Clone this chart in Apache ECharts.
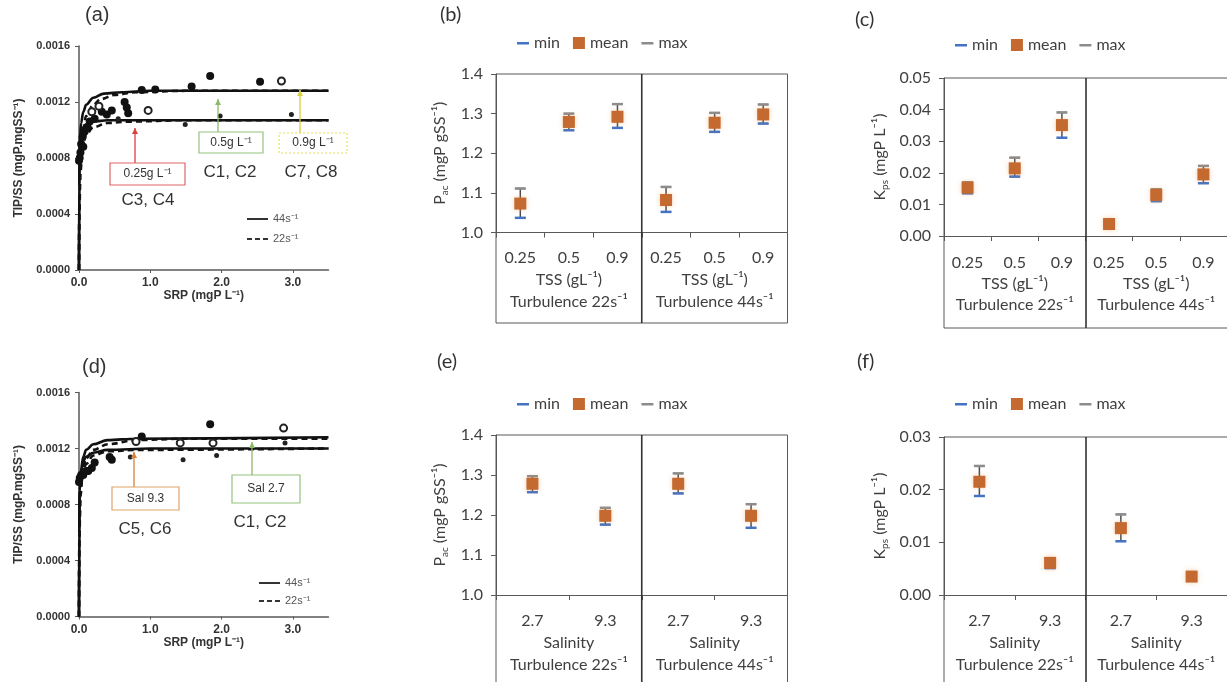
<!DOCTYPE html>
<html><head><meta charset="utf-8">
<script src="https://cdn.jsdelivr.net/npm/echarts@6/dist/echarts.min.js"></script>
<style>html,body{margin:0;padding:0;background:#fff}#c{width:1227px;height:682px}</style>
</head><body><div id="c"></div>
<script>
// ---------- Panel (a): TIP/SS vs SRP, TSS experiments ----------
const aSolidHigh = [[0,0],[0.003,0.0006],[0.01,0.00092],[0.03,0.00105],[0.06,0.00113],[0.1,0.00118],[0.2,0.00123],[0.35,0.00126],[0.6,0.00127],[1,0.00128],[2,0.00128],[3.5,0.00128]];
const aDashHigh  = [[0,0],[0.005,0.0005],[0.02,0.0008],[0.05,0.00098],[0.1,0.0011],[0.2,0.00118],[0.3,0.00122],[0.5,0.00125],[0.8,0.00127],[1.5,0.00128],[3.5,0.00128]];
const aSolidLow  = [[0,0],[0.003,0.0006],[0.01,0.00085],[0.03,0.00097],[0.06,0.00102],[0.1,0.00104],[0.2,0.00106],[0.4,0.00107],[1,0.00107],[3.5,0.00107]];
const aDashLow   = [[0,0],[0.005,0.0004],[0.02,0.0007],[0.05,0.00088],[0.1,0.00097],[0.2,0.00102],[0.4,0.00105],[0.7,0.00106],[1.5,0.00107],[3.5,0.00107]];
const aFilled = [[1.84,0.001386],[0.88,0.001286],[1.07,0.00129],[1.58,0.00131],[2.54,0.001345],[0.0,0.00078],[0.01,0.0008],[0.02,0.00084],[0.03,0.0009],[0.06,0.00088],[0.05,0.00095],[0.08,0.00099],[0.12,0.00102],[0.15,0.00106],[0.22,0.00108],[0.32,0.00113],[0.39,0.00111],[0.46,0.00114],[0.64,0.0012],[0.67,0.00116],[0.69,0.00112]];
const aOpen   = [[2.84,0.00135],[0.97,0.00114],[0.28,0.00117],[0.18,0.00113]];
const aSmall  = [[1.49,0.00104],[1.98,0.0011],[2.98,0.00111],[0.55,0.00108]];

// ---------- Panel (d): TIP/SS vs SRP, salinity experiments ----------
const dSolidHigh = [[0,0],[0.003,0.0006],[0.01,0.0009],[0.03,0.00106],[0.06,0.00114],[0.1,0.00119],[0.2,0.00123],[0.4,0.00126],[0.8,0.00127],[3.5,0.00128]];
const dDashHigh  = [[0,0],[0.005,0.0006],[0.02,0.0009],[0.05,0.00105],[0.1,0.00113],[0.2,0.00119],[0.4,0.00123],[0.8,0.00126],[1.5,0.00127],[3.5,0.00127]];
const dSolidLow  = [[0,0],[0.003,0.0006],[0.01,0.0009],[0.03,0.00104],[0.06,0.00111],[0.1,0.00114],[0.2,0.00117],[0.4,0.00119],[1,0.0012],[3.5,0.0012]];
const dDashLow   = [[0,0],[0.005,0.00055],[0.02,0.00086],[0.05,0.00101],[0.1,0.00109],[0.2,0.00115],[0.4,0.00118],[0.8,0.00119],[3.5,0.0012]];
const dFilled = [[1.84,0.001374],[0.88,0.001286],[0.0,0.00096],[0.01,0.00099],[0.03,0.00101],[0.06,0.00101],[0.1,0.00104],[0.13,0.00104],[0.18,0.00106],[0.22,0.0011],[0.46,0.00112],[0.43,0.00114]];
const dOpen   = [[2.87,0.001346],[1.42,0.00124],[1.88,0.00124],[0.8,0.00125]];
const dSmall  = [[1.46,0.00112],[1.93,0.00115],[2.89,0.00124],[0.72,0.00114]];

// ---------- Panels (b),(c): TSS categories ----------
const tssCats   = ['0.25','0.5','0.9','0.25','0.5','0.9'];
const tssGroups = ['TSS (gL⁻¹)\nTurbulence 22s⁻¹','TSS (gL⁻¹)\nTurbulence 44s⁻¹'];
const pacTssMean = [1.073,1.279,1.292,1.082,1.277,1.298];
const pacTssMin  = [1.037,1.258,1.264,1.052,1.254,1.275];
const pacTssMax  = [1.111,1.300,1.324,1.115,1.302,1.323];
const kTssMean = [0.0153,0.0214,0.0351,0.0038,0.0130,0.0195];
const kTssMin  = [0.0135,0.0188,0.0311,0.0033,0.0110,0.0167];
const kTssMax  = [0.0170,0.0248,0.0391,0.0045,0.0148,0.0222];

// ---------- Panels (e),(f): salinity categories ----------
const salCats   = ['2.7','9.3','2.7','9.3'];
const salGroups = ['Salinity\nTurbulence 22s⁻¹','Salinity\nTurbulence 44s⁻¹'];
const pacSalMean = [1.278,1.198,1.278,1.198];
const pacSalMin  = [1.257,1.176,1.254,1.168];
const pacSalMax  = [1.297,1.218,1.304,1.227];
const kSalMean = [0.0215,0.0061,0.0127,0.0035];
const kSalMin  = [0.0188,0.0051,0.0102,0.0029];
const kSalMax  = [0.0245,0.0069,0.0153,0.0041];

// ---------- styling / layout ----------
const FONT = 'Lato, "Open Sans", sans-serif';
const AFONT = '"Liberation Sans", Arial, sans-serif';
const AX = '#595959';
const TXT = '#404040';
const MEAN_C = '#C4692F';
const MIN_C = '#4472C4';
const MAX_C = '#8C8C8C';
const DASH_ICON = 'path://M0,0h0.01v0.01z M0,12h0.01v-0.01z M0,5h12v2.5h-12z';
const SOLID_LINE_ICON = 'path://M0,0h0.01v0.01z M0,14h0.01v-0.01z M0,6h21v2h-21z';
const DASHED_LINE_ICON = 'path://M0,0h0.01v0.01z M0,14h0.01v-0.01z M0,6h5v2h-5z M8,6h5v2h-5z M16,6h5v2h-5z';

const chart = echarts.init(document.getElementById('c'));

const curvePanels = [
  {grid:{left:79, top:46, width:249.5, height:224}, lines:[[aSolidHigh,'44s⁻¹'],[aDashHigh,'22s⁻¹'],[aSolidLow,'44s⁻¹'],[aDashLow,'22s⁻¹']], filled:aFilled, open:aOpen, small:aSmall, legend:{left:247, top:212, itemGap:6}},
  {grid:{left:79, top:392.5, width:249.5, height:224}, lines:[[dSolidHigh,'44s⁻¹'],[dDashHigh,'22s⁻¹'],[dSolidLow,'44s⁻¹'],[dDashLow,'22s⁻¹']], filled:dFilled, open:dOpen, small:dSmall, legend:{left:259, top:576, itemGap:4}}
];

const catPanels = [
  {grid:{left:496, top:74, width:291.5, height:158.5}, boxBottom:323, cats:tssCats, groups:tssGroups, mean:pacTssMean, min:pacTssMin, max:pacTssMax, yMin:1.0, yMax:1.4, yInt:0.1, dec:1, yName:'{b|P}{s|ac}{b| (mgP gSS⁻¹)}', nameGap:46, labMargin:17, grpMargin:37, grpLH:21.5, legend:{left:517, top:35}},
  {grid:{left:944, top:78, width:284, height:158}, boxBottom:328, cats:tssCats, groups:tssGroups, mean:kTssMean, min:kTssMin, max:kTssMax, yMin:0, yMax:0.05, yInt:0.01, dec:2, yName:'{b|K}{s|ps}{b| (mgP L⁻¹)}', nameGap:54, labMargin:19, grpMargin:38, grpLH:20.5, legend:{left:955, top:37}},
  {grid:{left:496, top:435, width:291.5, height:160}, boxBottom:700, cats:salCats, groups:salGroups, mean:pacSalMean, min:pacSalMin, max:pacSalMax, yMin:1.0, yMax:1.4, yInt:0.1, dec:1, yName:'{b|P}{s|ac}{b| (mgP gSS⁻¹)}', nameGap:46, labMargin:18, grpMargin:37, grpLH:21.7, legend:{left:517, top:396}},
  {grid:{left:944, top:437, width:284, height:158}, boxBottom:700, cats:salCats, groups:salGroups, mean:kSalMean, min:kSalMin, max:kSalMax, yMin:0, yMax:0.03, yInt:0.01, dec:2, yName:'{b|K}{s|ps}{b| (mgP L⁻¹)}', nameGap:54, labMargin:18, grpMargin:37, grpLH:21.7, legend:{left:955, top:396}}
];

const grid = [], xAxis = [], yAxis = [], series = [], legend = [], graphic = [];

// curve panels
curvePanels.forEach((p, gi) => {
  grid.push(Object.assign({containLabel:false}, p.grid));
  xAxis.push({type:'value', gridIndex:gi, min:0, max:3.5, interval:1,
    name:'SRP (mgP L⁻¹)', nameLocation:'middle', nameGap:17,
    nameTextStyle:{fontFamily:AFONT, fontWeight:'bold', fontSize:12, color:'#333'},
    axisLine:{show:true, onZero:false, lineStyle:{color:AX, width:1.5}},
    axisTick:{show:true, length:3, lineStyle:{color:AX}},
    axisLabel:{fontFamily:AFONT, fontWeight:'bold', fontSize:12, color:'#333', margin:7, showMaxLabel:false, formatter:v=>v.toFixed(1)},
    splitLine:{show:false}});
  yAxis.push({type:'value', gridIndex:gi, min:0, max:0.0016, interval:0.0004,
    name:'TIP/SS (mgP.mgSS⁻¹)', nameLocation:'middle', nameGap:54, nameRotate:90,
    nameTextStyle:{fontFamily:AFONT, fontWeight:'bold', fontSize:12, color:'#333'},
    axisLine:{show:true, onZero:false, lineStyle:{color:AX, width:1.5}},
    axisTick:{show:true, length:4, lineStyle:{color:AX}},
    axisLabel:{fontFamily:AFONT, fontWeight:'bold', fontSize:11, color:'#333', margin:9, formatter:v=>v.toFixed(4)},
    splitLine:{show:false}});
  p.lines.forEach(([data, name]) => {
    series.push({type:'line', name, xAxisIndex:gi, yAxisIndex:gi, data, symbol:'none', smooth:0.35, smoothMonotone:'x',
      lineStyle:{color:'#111', width:2.6, type: name.startsWith('22') ? [6,4] : 'solid'}, itemStyle:{color:'#222'}, z:3});
  });
  series.push({type:'scatter', xAxisIndex:gi, yAxisIndex:gi, data:p.filled, symbol:'circle', symbolSize:8, itemStyle:{color:'#111', opacity:1}, z:4});
  series.push({type:'scatter', xAxisIndex:gi, yAxisIndex:gi, data:p.open, symbol:'emptyCircle', symbolSize:7, itemStyle:{color:'#222', borderWidth:1.5, opacity:1}, z:4});
  series.push({type:'scatter', xAxisIndex:gi, yAxisIndex:gi, data:p.small, symbol:'circle', symbolSize:5, itemStyle:{color:'#222', opacity:1}, z:4});
  legend.push({data:[{name:'44s⁻¹', icon:SOLID_LINE_ICON},{name:'22s⁻¹', icon:DASHED_LINE_ICON}], orient:'vertical', left:p.legend.left, top:p.legend.top, itemWidth:21, itemHeight:14, itemGap:p.legend.itemGap, padding:0, selectedMode:false,
    itemStyle:{color:'#333', borderWidth:0}, lineStyle:{width:0},
    textStyle:{fontFamily:AFONT, fontSize:11, color:'#555'}});
});

// category panels
catPanels.forEach((p, k) => {
  const gi = 2 + k;
  grid.push(Object.assign({containLabel:false}, p.grid));
  const xi = xAxis.length;
  xAxis.push({type:'category', gridIndex:gi, data:p.cats, boundaryGap:true,
    axisLine:{show:true, onZero:false, lineStyle:{color:AX, width:1}},
    axisTick:{show:true, interval:0, length:5, lineStyle:{color:AX}},
    axisLabel:{interval:0, fontFamily:FONT, fontSize:16, color:TXT, margin:p.labMargin},
    splitLine:{show:false}});
  xAxis.push({type:'category', gridIndex:gi, data:p.groups, position:'bottom',
    axisLine:{show:false}, axisTick:{show:false},
    axisLabel:{interval:0, fontFamily:FONT, fontSize:16, color:TXT, margin:p.grpMargin, lineHeight:p.grpLH},
    splitLine:{show:false}});
  yAxis.push({type:'value', gridIndex:gi, min:p.yMin, max:p.yMax, interval:p.yInt,
    name:p.yName, nameLocation:'middle', nameGap:p.nameGap, nameRotate:90,
    nameTextStyle:{fontFamily:FONT, color:TXT, rich:{b:{fontFamily:FONT, fontSize:16, color:TXT, lineHeight:20}, s:{fontFamily:FONT, fontSize:10, color:TXT, lineHeight:12, verticalAlign:'bottom'}}},
    axisLine:{show:true, lineStyle:{color:AX}},
    axisTick:{show:true, length:5, lineStyle:{color:AX}},
    axisLabel:{fontFamily:FONT, fontSize:16, color:TXT, margin:13, formatter:v=>v.toFixed(p.dec)},
    splitLine:{show:false}});
  const idx = p.cats.map((c,i)=>i);
  series.push({type:'custom', xAxisIndex:xi, yAxisIndex:gi, clip:false, z:3,
    data: idx.map(i=>[i, p.min[i], p.max[i]]),
    encode:{x:0, y:[1,2]},
    renderItem:(params, api) => {
      const lo = api.coord([api.value(0), api.value(1)]);
      const hi = api.coord([api.value(0), api.value(2)]);
      const w = 5, st = {stroke:'#4d4d4d', lineWidth:1.5};
      return {type:'group', children:[
        {type:'line', shape:{x1:lo[0], y1:lo[1], x2:hi[0], y2:hi[1]}, style:st},
        {type:'line', shape:{x1:lo[0]-w, y1:lo[1], x2:lo[0]+w, y2:lo[1]}, style:st},
        {type:'line', shape:{x1:hi[0]-w, y1:hi[1], x2:hi[0]+w, y2:hi[1]}, style:st}
      ]};
    }});
  series.push({type:'scatter', name:'min', xAxisIndex:xi, yAxisIndex:gi, data: idx.map(i=>[i, p.min[i]]), symbol:'rect', symbolSize:[11,2.5], itemStyle:{color:MIN_C, opacity:1}, z:4});
  series.push({type:'scatter', name:'max', xAxisIndex:xi, yAxisIndex:gi, data: idx.map(i=>[i, p.max[i]]), symbol:'rect', symbolSize:[11,2.5], itemStyle:{color:MAX_C, opacity:1}, z:4});
  series.push({type:'scatter', name:'mean', xAxisIndex:xi, yAxisIndex:gi, data: idx.map(i=>[i, p.mean[i]]), symbol:'rect', symbolSize:12,
    itemStyle:{color:MEAN_C, opacity:1, shadowBlur:5, shadowColor:'rgba(235,150,70,0.45)'}, z:5});
  legend.push({data:[{name:'min', icon:DASH_ICON},{name:'mean', icon:'rect'},{name:'max', icon:DASH_ICON}],
    left:p.legend.left, top:p.legend.top, itemWidth:12, itemHeight:12, itemGap:13, padding:0, selectedMode:false,
    textStyle:{fontFamily:FONT, fontSize:16, color:TXT}});
  // boxed frame + group divider
  const g = p.grid;
  graphic.push({type:'rect', silent:true, z:1, shape:{x:g.left, y:g.top, width:g.width, height:p.boxBottom - g.top}, style:{fill:'none', stroke:AX, lineWidth:1}});
  graphic.push({type:'line', silent:true, z:1, shape:{x1:g.left + g.width/2, y1:g.top, x2:g.left + g.width/2, y2:p.boxBottom}, style:{stroke:'#333', lineWidth:1.6}});
});

// annotations in (a) and (d)
const annotations = [
  {box:[110,163,75,22], stroke:'#E06666', text:'0.25g L⁻¹', cond:'C3, C4', cx:148, cy:200, arrow:[135,163,135,128], ac:'#D9413F'},
  {box:[199,132,64,21], stroke:'#93C47D', text:'0.5g L⁻¹', cond:'C1, C2', cx:230, cy:172, arrow:[218,132,218,99], ac:'#8DBA6A'},
  {box:[279,133,68,20], stroke:'#E2E25A', dash:[2,2], text:'0.9g L⁻¹', cond:'C7, C8', cx:311, cy:172, arrow:[300,133,300,90], ac:'#D8D040'},
  {box:[112,487,67,23], stroke:'#E0A36B', text:'Sal 9.3', cond:'C5, C6', cx:145, cy:529, arrow:[134,487,134,452], ac:'#D9803A'},
  {box:[232,475,68,28], stroke:'#93C47D', text:'Sal 2.7', cond:'C1, C2', cx:260, cy:522, arrow:[252,475,252,442], ac:'#8DBA6A'}
];
annotations.forEach(a => {
  const [x,y,w,h] = a.box;
  graphic.push({type:'rect', z:10, shape:{x, y, width:w, height:h}, style:{fill:'#fff', stroke:a.stroke, lineWidth:1.2, lineDash:a.dash || null}});
  graphic.push({type:'text', z:11, x:x+w/2, y:y+h/2, style:{text:a.text, fontFamily:AFONT, fontSize:12, fill:'#333', align:'center', verticalAlign:'middle'}});
  graphic.push({type:'text', z:11, x:a.cx, y:a.cy, style:{text:a.cond, fontFamily:AFONT, fontSize:17, fill:'#333', align:'center', verticalAlign:'middle'}});
  graphic.push({type:'line', z:9, shape:{x1:a.arrow[0], y1:a.arrow[1], x2:a.arrow[2], y2:a.arrow[3]}, style:{stroke:a.ac, lineWidth:1.3}});
  graphic.push({type:'polygon', z:9, shape:{points:[[a.arrow[2]-3,a.arrow[3]+6],[a.arrow[2]+3,a.arrow[3]+6],[a.arrow[2],a.arrow[3]]]}, style:{fill:a.ac}});
});

const titles = [
  ['(a)', 85, 5, AFONT], ['(b)', 440, 5, FONT], ['(c)', 855, 10, FONT],
  ['(d)', 82, 357, AFONT], ['(e)', 437, 352, FONT], ['(f)', 857, 352, FONT]
].map(([t,l,tp,f]) => ({text:t, left:l, top:tp, padding:0, textStyle:{fontFamily:f, fontSize:20, fontWeight:'normal', color:'#333'}}));

chart.setOption({
  animation:false,
  backgroundColor:'#fff',
  title:titles,
  legend,
  grid, xAxis, yAxis, series, graphic
});
</script></body></html>
